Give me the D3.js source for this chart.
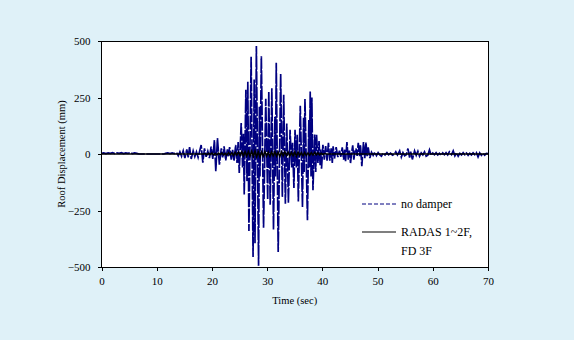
<!DOCTYPE html>
<html>
<head>
<meta charset="utf-8">
<script src="https://cdn.jsdelivr.net/npm/d3@7"></script>
<style>
  html, body { margin: 0; padding: 0; background: #dff1f8; }
  svg { display: block; }
  text { font-family: "Liberation Serif", "Times New Roman", serif; fill: #000; }
</style>
</head>
<body>
<svg id="chart" width="574" height="340"></svg>
<script>
// Axis ticks
const timeTicks = [0, 10, 20, 30, 40, 50, 60, 70];
const dispTicks = [-500, -250, 0, 250, 500];

// Series names shown in the legend
const seriesNames = ["no damper", "RADAS 1~2F,\nFD 3F"];

// Roof displacement without dampers (time in sec, displacement in mm)
const noDamperTime = [
  0.0, 0.4, 0.8, 1.2, 1.6, 2.0, 2.4, 2.8, 3.2, 3.6, 4.0, 4.4, 4.8, 5.2, 5.6, 6.0, 6.4, 6.8,
  11.3, 11.6, 12.0, 12.4, 12.8, 13.2, 13.6, 13.9, 14.2, 14.5, 14.8, 15.1, 15.45, 15.7, 15.95,
  16.25, 16.6, 16.9, 17.2, 17.5, 18.05, 18.35, 18.65, 18.95, 19.25, 19.55, 19.85, 20.15, 20.45,
  20.7, 21.0, 21.35, 21.7, 21.95, 22.2, 22.5, 22.8, 23.0, 23.2, 23.5, 23.75, 24.0, 24.3, 24.55,
  24.75, 24.95, 25.3, 25.55, 25.7, 25.85, 26.15, 26.35, 26.5, 26.7, 27.1, 27.45, 27.65, 27.8,
  28.05, 28.45, 28.6, 28.7, 28.95, 29.35, 29.75, 30.1, 30.3, 30.55, 30.85, 31.15, 31.4, 31.5,
  31.65, 32.0, 32.45, 32.75, 33.0, 33.3, 33.55, 33.85, 34.15, 34.45, 34.6, 34.85, 35.05, 35.3,
  35.45, 35.65, 36.0, 36.4, 36.6, 36.7, 36.85, 37.3, 37.55, 37.65, 37.8, 37.95, 38.1, 38.3,
  38.6, 38.8, 38.95, 39.2, 39.4, 39.6, 39.7, 39.85, 40.1, 40.35,
  40.6, 40.85, 41.1, 41.35, 41.6, 41.8, 41.95, 42.2, 42.5, 42.8, 43.1, 43.35, 43.6, 43.85,
  44.05, 44.2, 44.45, 44.7, 44.9, 45.1, 45.3, 45.5, 45.7, 45.9, 46.1, 46.3, 46.5, 46.75,
  46.9, 47.15, 47.45, 47.7, 47.9, 48.1, 48.3, 48.6, 48.9, 49.2, 49.5, 49.8, 50.1, 50.4,
  50.7, 51.0, 51.35, 51.7, 52.0, 52.35, 52.7, 53.0, 53.3, 53.6, 54.0, 54.3, 54.6, 54.9,
  55.2, 55.5, 55.8, 56.0, 56.3, 56.7, 57.0, 57.3, 57.6, 57.9, 58.2, 58.5, 58.8, 59.1,
  59.4, 59.7, 60.0, 60.3, 60.6, 60.9, 61.2, 61.5, 61.8, 62.1, 62.4, 62.7, 63.0, 63.4,
  63.7, 64.0, 64.3, 64.6, 64.9, 65.2, 65.5, 65.8, 66.1, 66.4, 66.7, 67.0, 67.3, 67.6,
  67.9, 68.2, 68.5, 68.8, 69.1, 69.4, 69.7, 70.0
];
const noDamperDisp = [
  3, 5, 2, 5, 3, 6, 2, 5, 3, 6, 2, 5, 3, 6, 2, 5, 3, 0,
  0, 3, 5, 2, 5, 2, 6, -8, 10, -10, 14, -18, 20, -15, 30,
  -22, 14, -12, 10, -15, 40, -38, 25, -12, 12, -18, 33, -22, 62,
  -76, 70, -47, 25, -15, 34, -28, 20, -10, 31, -25, 18, -32, 40, -40,
  53, -84, 137, -60, 90, -179, 284, -120, 320, -341, 430, -456, 330, -395,
  478, -495, 209, -100, 433, -326, 244, -201, 276, -225, 291, -334, 165, -100,
  404, -434, 354, -190, 262, -220, 135, -216, 107, -60, 50, -150, 107, -60,
  85, -210, 213, -234, 160, -80, 243, -293, 150, -60, 276, -100, 250, -160,
  86, -80, 85, -40, 57, -50, 20, -65, 41, -25,
  35, -30, 50, -30, 25, -40, 34, -20, 30, -14, 15, -12, 29, -25,
  19, -32, 53, -25, 15, -40, 5, 38, -25, 10, 24, -8, 49, -10,
  40, -54, 53, -18, 51, -10, 29, -18, 8, -6, 8, -7, 6, -4,
  -10, 4, -4, 6, -3, 4, -5, -2, 10, -4, 14, -14, 6, -8,
  -3, 24, -16, 10, -24, 14, -6, 12, -10, 5, -4, 10, -10, -5,
  18, -6, 4, -3, 6, -4, 3, -6, 5, -3, 6, -4, 10, -3,
  14, -8, 5, -10, 3, -4, 6, -3, 4, -6, 3, -4, 5, -3,
  6, -13, 5, -6, 3, -5, 3, 2
];

// Roof displacement with RADAS on 1~2F and FD on 3F
const radasTime = [
  0, 18.5, 18.8, 19.1, 19.4, 19.7, 20.0, 20.3, 20.6, 20.9, 21.2, 21.5, 21.8, 22.1, 22.4,
  22.7, 23.0, 23.3, 23.6, 23.9, 24.2, 24.5, 24.8, 25.1, 25.4, 25.7, 26.0, 26.3, 26.6, 26.9,
  27.2, 27.5, 27.8, 28.1, 28.4, 28.7, 29.0, 29.3, 29.6, 29.9, 30.2, 30.5, 30.8, 31.1, 31.4,
  31.7, 32.0, 32.3, 32.6, 32.9, 33.2, 33.5, 33.8, 34.1, 34.4, 34.7, 35.0, 35.3, 35.6, 35.9,
  36.2, 36.5, 36.8, 37.1, 37.4, 37.7, 38.0, 38.3, 38.6, 38.9, 39.2, 39.5, 39.8, 40.1, 40.4,
  40.7, 70
];
const radasDisp = [
  0, 0, 2, -3, 3, -2, 4, -4, 3, -5, 4, -3, 5, -4, 3,
  -5, 6, -4, 5, -6, 7, -5, 8, -6, 9, -8, 10, -9, 11, -10,
  12, -11, 13, -12, 10, -14, 9, -10, 11, -9, 8, -10, 9, -8, 10,
  -9, 8, -11, 9, -8, 10, -7, 8, -9, 7, -8, 9, -10, 8, -7,
  6, -8, 7, -6, 5, -6, 6, -5, 7, -4, 5, -4, 3, -2, 2,
  0, 0
];

const svg = d3.select("#chart");
const W = 574, H = 340;
const plot = { left: 101.5, right: 488, top: 41, bottom: 267 };

svg.append("rect").attr("width", W).attr("height", H).attr("fill", "#dff1f8");

const x = d3.scaleLinear().domain([0, 70]).range([plot.left, plot.right]);
const y = d3.scaleLinear().domain([-500, 500]).range([plot.bottom, plot.top]);

// plot area
svg.append("rect")
  .attr("x", plot.left).attr("y", plot.top)
  .attr("width", plot.right - plot.left).attr("height", plot.bottom - plot.top)
  .attr("fill", "#fff");

// axes
const xAxis = svg.append("g")
  .attr("transform", `translate(0,${plot.bottom})`)
  .call(d3.axisBottom(x).tickValues(timeTicks).tickSize(4).tickPadding(6).tickFormat(d3.format("d")));
const yAxis = svg.append("g")
  .attr("transform", `translate(${plot.left},0)`)
  .call(d3.axisLeft(y).tickValues(dispTicks).tickSize(4).tickPadding(7).tickFormat(d3.format("d")));
[xAxis, yAxis].forEach(g => {
  g.select(".domain").remove();
  g.selectAll(".tick line").attr("stroke", "#000").attr("shape-rendering", "crispEdges");
  g.selectAll(".tick text").style("font-family", '"Liberation Serif", serif').style("font-size", "11px").attr("fill", "#000");
});

// series
const line = d3.line().x(d => x(d[0])).y(d => y(d[1]));
const noDamper = noDamperTime.map((t, i) => [t, noDamperDisp[i]]);
const radas = radasTime.map((t, i) => [t, radasDisp[i]]);

svg.append("path")
  .datum(noDamper)
  .attr("d", line)
  .attr("fill", "none")
  .attr("stroke", "#000080")
  .attr("stroke-width", 1.7)
  .attr("stroke-dasharray", "14,1.5");

svg.append("path")
  .datum(radas)
  .attr("d", line)
  .attr("fill", "none")
  .attr("stroke", "#000")
  .attr("stroke-width", 1.6);

// plot frame
svg.append("rect")
  .attr("x", plot.left).attr("y", plot.top)
  .attr("width", plot.right - plot.left).attr("height", plot.bottom - plot.top)
  .attr("fill", "none").attr("stroke", "#000").attr("stroke-width", 1)
  .attr("shape-rendering", "crispEdges");

// axis titles
svg.append("text")
  .attr("x", (plot.left + plot.right) / 2).attr("y", 304)
  .attr("text-anchor", "middle").style("font-size", "10.5px")
  .text("Time (sec)");
svg.append("text")
  .attr("transform", `translate(65,${(plot.top + plot.bottom) / 2}) rotate(-90)`)
  .attr("text-anchor", "middle").style("font-size", "10.5px")
  .text("Roof Displacement (mm)");

// legend
const legend = svg.append("g");
const legendRows = [
  { y: 204, stroke: "#000080", dash: "4,2", width: 1 },
  { y: 232, stroke: "#000", dash: null, width: 1.2 }
];
legendRows.forEach((r, i) => {
  legend.append("line")
    .attr("x1", 362).attr("x2", 396).attr("y1", r.y).attr("y2", r.y)
    .attr("stroke", r.stroke).attr("stroke-width", r.width)
    .attr("stroke-dasharray", r.dash);
  const t = legend.append("text")
    .attr("x", 401).attr("y", r.y + 4).style("font-size", "12px");
  seriesNames[i].split("\n").forEach((s, k) => {
    t.append("tspan").attr("x", 401).attr("dy", k === 0 ? 0 : 18.5).text(s);
  });
});
</script>
</body>
</html>
